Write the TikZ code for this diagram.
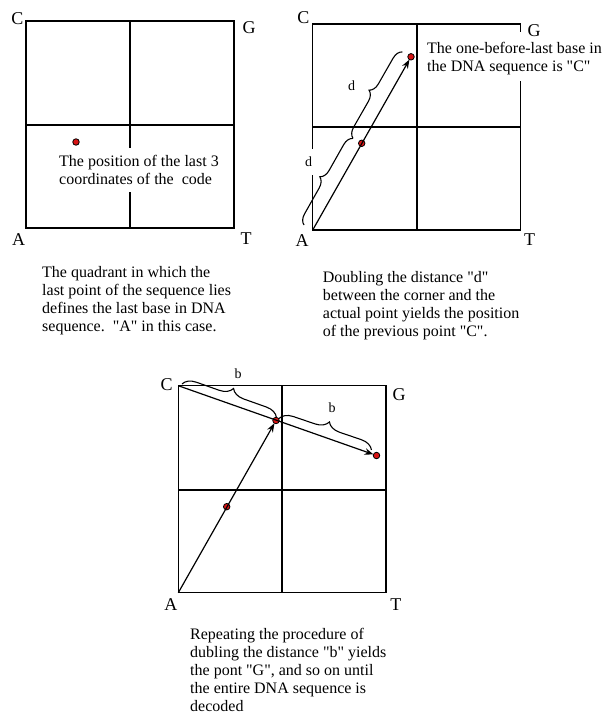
\documentclass[tikz,border=0pt]{standalone}
\usepackage{fontspec}
\setmainfont{Liberation Serif}[Ligatures=TeXOff]
\usetikzlibrary{arrows.meta,decorations.pathreplacing}
\definecolor{dotred}{RGB}{215,20,20}
\tikzset{
  gridline/.style={line width=1.35pt, line cap=rect},
  dotnode/.style={circle, fill=dotred, draw=black, line width=0.8pt, inner sep=0pt, minimum size=6.5pt},
  brc/.style={decorate, decoration={brace, amplitude=#1}, line width=1.1pt},
  brc/.default=10pt,
  arr/.style={-{Stealth[length=9pt,width=6.5pt]}, line width=1.2pt, shorten >=-0.5pt},
  corner/.style={font=\fontsize{18}{20}\selectfont, anchor=base, inner sep=0pt},
  txt/.style={font=\fontsize{16}{18}\selectfont, align=left, anchor=north west, inner sep=0pt},
  lbl/.style={font=\fontsize{14}{16}\selectfont, inner sep=0pt},
}
\begin{document}
\begin{tikzpicture}[x=1pt,y=-1pt]
\useasboundingbox (0,0) rectangle (605,717);

% ---------------- Panel 1 ----------------
\coordinate (p1A) at (26,228);
\coordinate (p1C) at (26,21);
\coordinate (p1G) at (234,21);
\coordinate (p1T) at (234,228);
\draw[gridline] (p1A) rectangle (p1G);
\draw[gridline] (26,125) -- (234,125);
\draw[gridline] (130,21) -- (130,147);
\draw[gridline] (130,193) -- (130,228);
\node[dotnode] (p1d) at (76,142) {};
\node[txt] (p1txt) at (59,155) {The position of the last 3\\coordinates of the~~code};
\node[corner] (p1Cl) at (17.5,25) {C};
\node[corner] (p1Gl) at (249,34) {G};
\node[corner] (p1Al) at (18.5,245) {A};
\node[corner] (p1Tl) at (246,244) {T};
\node[txt] (cap1) at (42,266.6) {The quadrant in which the\\last point of the sequence lies\\defines the last base in DNA\\sequence.~~"A" in this case.};

% ---------------- Panel 2 ----------------
\coordinate (p2A) at (312.7,230);
\coordinate (p2C) at (312.7,24);
\coordinate (p2G) at (520.7,24);
\coordinate (p2T) at (520.7,230);
\draw[gridline] (312.7,148) -- (p2C) -- (p2G) -- (520.7,31.7);
\draw[gridline] (520.7,81.7) -- (p2T) -- (p2A) -- (312.7,176);
\draw[gridline] (312.7,127) -- (520.7,127);
\draw[gridline] (417,24) -- (417,230);
\node[dotnode] (p2d1) at (361.7,143.3) {};
\node[dotnode] (p2d2) at (411,56.8) {};
\draw[arr] (p2A) -- (p2d2);
\draw[brc] (304,225) -- (353,138.3);
\draw[brc] (353,138.3) -- (402.5,51.8);
\node[lbl] (p2dl1) at (308.6,162.2) {d};
\node[lbl] (p2dl2) at (351.6,85.9) {d};
\node[txt] (p2txt) at (427,42) {The one-before-last base in\\the DNA sequence is "C"};
\node[corner] (p2Cl) at (303.3,24) {C};
\node[corner] (p2Gl) at (534,36.7) {G};
\node[corner] (p2Al) at (302,246) {A};
\node[corner] (p2Tl) at (529.5,245) {T};
\node[txt] (cap2) at (322.7,271) {Doubling the distance "d"\\between the corner and the\\actual point yields the position\\of the previous point "C".};

% ---------------- Panel 3 ----------------
\coordinate (p3A) at (178.3,592.7);
\coordinate (p3C) at (178.3,385.7);
\coordinate (p3G) at (386,385.7);
\coordinate (p3T) at (386,592.7);
\draw[gridline] (p3A) rectangle (p3G);
\draw[gridline] (178.3,490) -- (386,490);
\draw[gridline] (282,385.7) -- (282,592.7);
\node[dotnode] (p3d1) at (226.7,506.7) {};
\node[dotnode] (p3d2) at (276,420.5) {};
\node[dotnode] (p3d3) at (376.5,455.5) {};
\draw[arr] (p3A) -- (p3d2);
\draw[arr] (p3C) -- (p3d3);
\draw[brc=13pt] (182,384) -- (276.5,417.5);
\draw[brc=13pt] (279,418.5) -- (371.5,450);
\node[lbl] (p3bl1) at (238,374) {b};
\node[lbl] (p3bl2) at (332,408) {b};
\node[corner] (p3Cl) at (166.7,390.7) {C};
\node[corner] (p3Gl) at (399,400) {G};
\node[corner] (p3Al) at (170.8,610) {A};
\node[corner] (p3Tl) at (395.8,610) {T};
\node[txt] (cap3) at (190,628) {Repeating the procedure of\\dubling the distance "b" yields\\the pont "G", and so on until\\the entire DNA sequence is\\decoded};
\end{tikzpicture}
\end{document}
